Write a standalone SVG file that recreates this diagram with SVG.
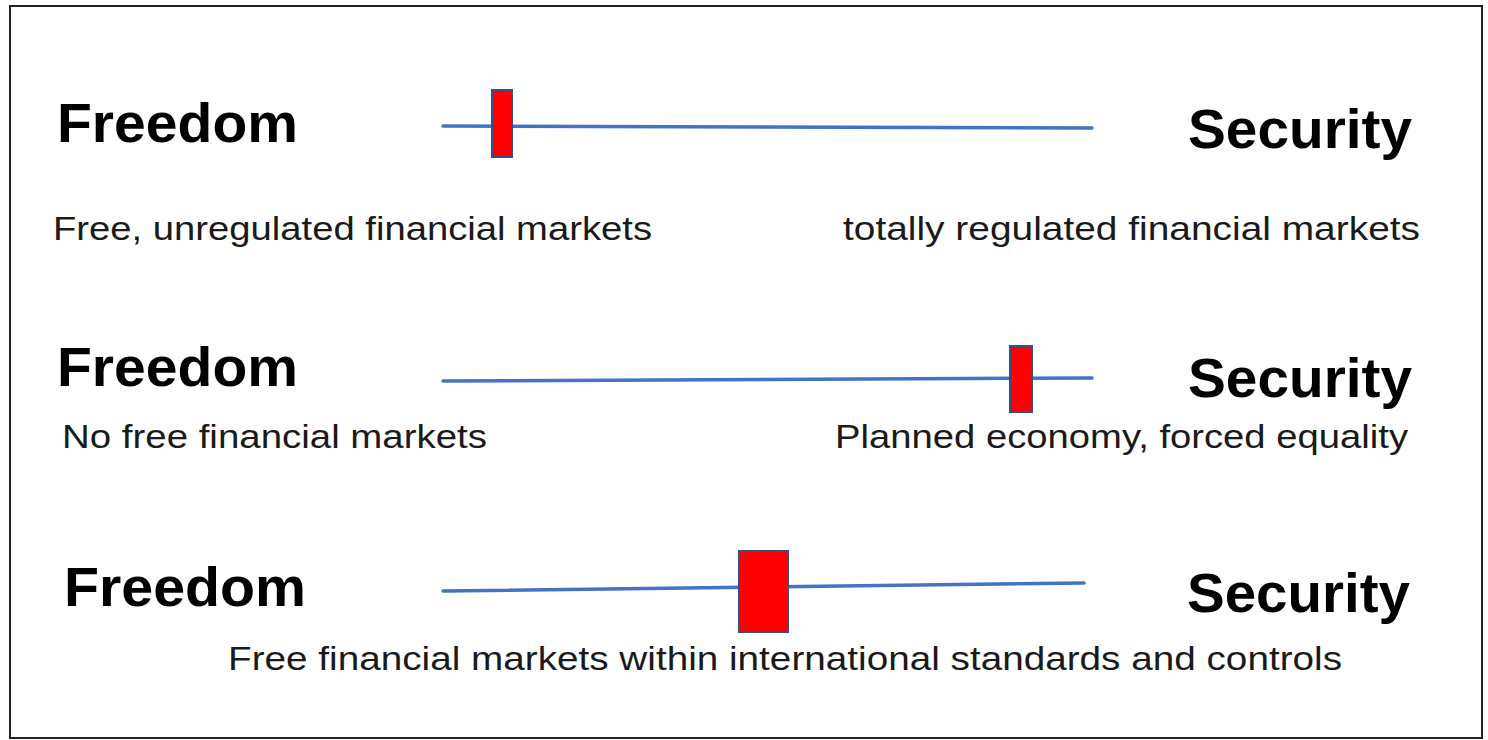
<svg xmlns="http://www.w3.org/2000/svg" width="1488" height="740" viewBox="0 0 1488 740">
<style>
.big{font-family:"Liberation Sans",Arial,sans-serif;font-weight:bold;font-size:56px;fill:#000}
.lbl{font-family:"Liberation Sans",Arial,sans-serif;font-size:34px;fill:#1a1a1a}
.bar{stroke:#4472C4;stroke-width:3.5;fill:none;stroke-linecap:round}
.knob{fill:#FF0000;stroke:#2F528F;stroke-width:2}
</style>
<rect x="0" y="0" width="1488" height="740" fill="#fff"/>
<rect x="10" y="6" width="1472" height="732" fill="#fff" stroke="#222" stroke-width="2"/>
<g id="connectors">
<line class="bar" x1="443" y1="126" x2="1092" y2="128"/>
<line class="bar" x1="443" y1="381" x2="1092" y2="378"/>
<line class="bar" x1="443" y1="591" x2="1084" y2="583"/>
</g>
<g id="knob1"><rect class="knob" x="492" y="90" width="20" height="67"/></g>
<g id="knob2"><rect class="knob" x="1010" y="346" width="22" height="66"/></g>
<g id="knob3"><rect class="knob" x="739" y="551" width="49" height="81"/></g>
<g id="row1">
<text class="big" x="57" y="142" textLength="241" lengthAdjust="spacingAndGlyphs">Freedom</text>
<text class="big" x="1188" y="148" textLength="224" lengthAdjust="spacingAndGlyphs">Security</text>
<text class="lbl" x="53" y="240" textLength="599" lengthAdjust="spacingAndGlyphs">Free, unregulated financial markets</text>
<text class="lbl" x="843" y="240" textLength="577" lengthAdjust="spacingAndGlyphs">totally regulated financial markets</text>
</g>
<g id="row2">
<text class="big" x="57" y="386" textLength="241" lengthAdjust="spacingAndGlyphs">Freedom</text>
<text class="big" x="1188" y="397" textLength="224" lengthAdjust="spacingAndGlyphs">Security</text>
<text class="lbl" x="62" y="448" textLength="425" lengthAdjust="spacingAndGlyphs">No free financial markets</text>
<text class="lbl" x="835" y="448" textLength="573" lengthAdjust="spacingAndGlyphs">Planned economy, forced equality</text>
</g>
<g id="row3">
<text class="big" x="64" y="606" textLength="242" lengthAdjust="spacingAndGlyphs">Freedom</text>
<text class="big" x="1187" y="612" textLength="223" lengthAdjust="spacingAndGlyphs">Security</text>
<text class="lbl" x="228" y="670" textLength="1114" lengthAdjust="spacingAndGlyphs">Free financial markets within international standards and controls</text>
</g>
</svg>
